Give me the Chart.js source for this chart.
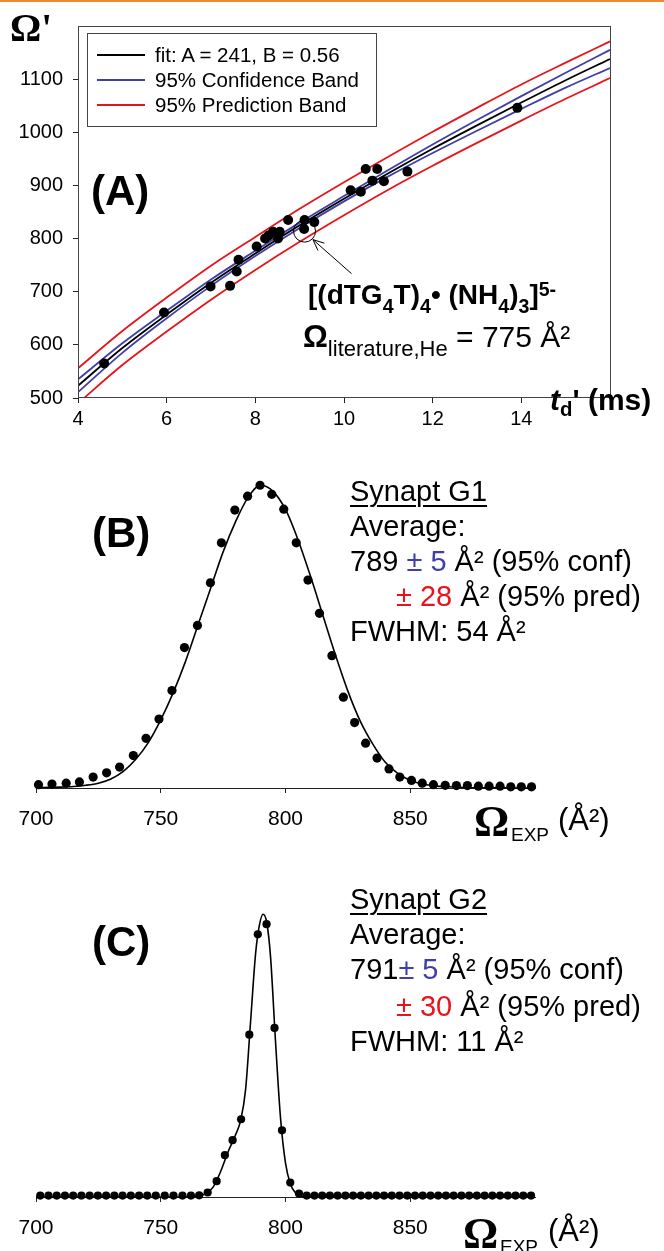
<!DOCTYPE html>
<html>
<head>
<meta charset="utf-8">
<script src="https://cdn.jsdelivr.net/npm/chart.js@4.4.1/dist/chart.umd.min.js"></script>
<style>
  html, body { margin:0; padding:0; background:#fff; }
  #wrap { position:relative; width:664px; height:1251px; overflow:hidden; background:#fff;
          font-family:"Liberation Sans", Arial, Helvetica, sans-serif; color:#000; }
  #topline { position:absolute; left:0; top:0; width:664px; height:2px; background:#EE8B2E; }
  canvas { position:absolute; left:0; }
  .t { position:absolute; white-space:nowrap; line-height:1; }
  .sb { font-size:0.7em; position:relative; top:0.42em; }
  .sp { font-size:0.7em; position:relative; top:-0.42em; }
  #legendA { position:absolute; left:87px; top:33px; width:290px; height:94px; box-sizing:border-box; border:1px solid #444; }
  .lgLine { position:absolute; height:2px; width:48px; left:9px; }
  .lgText { position:absolute; left:67px; font-size:20.5px; line-height:1; white-space:nowrap; }
</style>
</head>
<body>
<div id="wrap">
  <div id="topline"></div>
  <canvas id="chartA" width="664" height="430" style="top:0;width:664px;height:430px"></canvas>
  <canvas id="chartB" width="664" height="420" style="top:430px;width:664px;height:420px"></canvas>
  <canvas id="chartC" width="664" height="401" style="top:850px;width:664px;height:401px"></canvas>
  <div id="legendA"></div>
</div>
<script>
// ---------------- Panel A data ----------------
const tdFit      = [4, 5, 6, 7, 8, 9, 10, 11, 12, 13, 14, 15, 16];
const omegaFit   = [523, 594, 657, 717, 772, 825, 875, 923, 969, 1013, 1056, 1098, 1138];
const confUpper  = [535, 603, 664, 723, 777, 830, 880, 929, 977, 1023, 1068, 1112, 1155];
const confLower  = [511, 585, 650, 711, 767, 820, 870, 917, 961, 1003, 1044, 1084, 1121];
const predUpper  = [556, 626, 689, 749, 803, 856, 906, 954, 1001, 1046, 1090, 1131, 1171];
const predLower  = [490, 562, 625, 685, 741, 794, 844, 892, 937, 980, 1022, 1063, 1102];
const tdData     = [4.59, 5.94, 6.99, 7.43, 7.58, 7.62, 8.03, 8.22, 8.30, 8.40, 8.51, 8.55, 8.74, 9.10, 9.11, 9.33, 10.15, 10.38, 10.49, 10.64, 10.75, 10.90, 11.43, 13.91];
const omegaData  = [565, 661, 710, 711, 738, 760, 785, 800, 806, 813, 800, 813, 835, 818, 835, 831, 891, 888, 931, 909, 931, 908, 926, 1046];
const litPoint   = [9.11, 814];
const arrowFrom  = [10.17, 734];
const arrowTo    = [9.30, 798];
const xTicksA    = [4, 6, 8, 10, 12, 14];
const yTicksA    = [500, 600, 700, 800, 900, 1000, 1100];

// ---------------- Panel B data ----------------
const omegaB = [701.0, 706.4, 712.1, 717.4, 722.9, 728.3, 733.5, 739.0, 744.1, 749.3, 754.5, 759.5, 764.7, 769.9, 774.3, 779.7, 784.8, 789.8, 794.5, 799.3, 804.3, 809.0, 813.6, 818.6, 823.2, 827.7, 832.1, 836.7, 841.5, 845.8, 850.5, 854.8, 859.3, 864.0, 868.5, 872.9, 877.3, 881.6, 886.0, 890.3, 894.5, 898.6];
const intB   = [1.1, 1.3, 1.6, 2.0, 3.6, 5.0, 6.9, 10.7, 16.4, 22.8, 32.2, 46.4, 53.7, 67.8, 81.0, 91.8, 96.4, 100, 97.0, 92.1, 81.0, 68.7, 57.7, 43.7, 30.0, 21.6, 14.8, 9.9, 6.3, 3.6, 2.5, 1.6, 1.1, 0.9, 0.8, 0.8, 0.6, 0.6, 0.6, 0.4, 0.4, 0.4];
const fitBx  = [700, 705, 710, 715, 720, 725, 730, 735, 740, 745, 750, 755, 760, 765, 770, 775, 780, 785, 790, 795, 800, 805, 810, 815, 820, 825, 830, 835, 840, 845, 850, 855, 860, 865, 870, 875, 880, 885, 890, 895, 900];
const fitBy  = [0.1, 0.2, 0.3, 0.5, 0.9, 1.6, 3.0, 5.5, 9.5, 15.0, 22.5, 31.5, 42, 54, 66, 78, 88, 96, 100, 98, 92, 82, 70, 57, 44, 32, 22, 14.5, 8.5, 4.8, 2.5, 1.3, 0.7, 0.4, 0.2, 0.1, 0.1, 0.05, 0, 0, 0];

// ---------------- Panel C data ----------------
const omegaC = [701.7, 705.0, 708.3, 711.6, 714.9, 718.2, 721.5, 724.8, 728.1, 731.4, 734.7, 738.0, 741.3, 744.6, 748.0, 751.6, 755.1, 758.7, 762.1, 765.4,
                768.8, 772.4, 775.7, 778.8, 782.2, 785.5, 788.9, 792.4, 795.6, 798.6, 801.9, 805.4,
                808.5, 811.6, 814.7, 817.8, 820.9, 824.0, 827.1, 830.2, 833.3, 836.4, 839.5, 842.6, 845.7, 848.8, 851.9, 855.0, 858.1, 861.2, 864.3, 867.4, 870.5, 873.6, 876.7, 879.8, 882.9, 886.0, 889.1, 892.2, 895.3, 898.4];
const intC   = [0.5, 0.5, 0.5, 0.5, 0.5, 0.5, 0.5, 0.5, 0.5, 0.5, 0.5, 0.5, 0.5, 0.5, 0.5, 0.5, 0.5, 0.5, 0.5, 0.6,
                1.6, 5.6, 14.8, 20.1, 27.5, 57.4, 92.9, 96.5, 59.8, 23.6, 5.1, 1.2,
                0.5, 0.5, 0.5, 0.5, 0.5, 0.5, 0.5, 0.5, 0.5, 0.5, 0.5, 0.5, 0.5, 0.5, 0.5, 0.5, 0.5, 0.5, 0.5, 0.5, 0.5, 0.5, 0.5, 0.5, 0.5, 0.5, 0.5, 0.5, 0.5, 0.5];
const fitCx  = [700, 720, 740, 755, 762, 765, 768, 771, 774, 777, 780, 782, 784, 786, 788, 789.5, 791, 792.5, 794, 796, 798, 800, 802, 804, 806, 808, 820, 850, 900];
const fitCy  = [0, 0, 0, 0, 0.1, 0.3, 1.2, 3.5, 9, 16, 22, 27, 38, 62, 86, 96, 100, 97, 85, 55, 28, 12, 4.5, 1.5, 0.4, 0, 0, 0, 0];
const xTicksBC = [700, 750, 800, 850];

// ---------------- helpers ----------------
const BLUE = '#3F3FA6', RED = '#E8141B';
function xy(xs, ys) { return xs.map((x, i) => ({ x: x, y: ys[i] })); }
Chart.defaults.font.family = "'Liberation Sans', Arial, sans-serif";
Chart.defaults.color = '#000';

const framePlugin = {
  id: 'frame',
  afterDatasetsDraw(chart) {
    const a = chart.chartArea, ctx = chart.ctx;
    ctx.save();
    ctx.strokeStyle = '#444'; ctx.lineWidth = 1;
    ctx.strokeRect(Math.round(a.left) + 0.5, Math.round(a.top) + 0.5, Math.round(a.right - a.left), Math.round(a.bottom - a.top) - 1);
    ctx.restore();
  }
};
const arrowPlugin = {
  id: 'arrow',
  afterDatasetsDraw(chart) {
    const ctx = chart.ctx, sx = chart.scales.x, sy = chart.scales.y;
    const x1 = sx.getPixelForValue(arrowFrom[0]), y1 = sy.getPixelForValue(arrowFrom[1]);
    const x2 = sx.getPixelForValue(arrowTo[0]), y2 = sy.getPixelForValue(arrowTo[1]);
    const ang = Math.atan2(y2 - y1, x2 - x1), L = 12;
    ctx.save(); ctx.strokeStyle = '#000'; ctx.lineWidth = 1;
    ctx.beginPath(); ctx.moveTo(x1, y1); ctx.lineTo(x2, y2);
    [-0.42, 0.42].forEach(d => { ctx.moveTo(x2, y2); ctx.lineTo(x2 - L * Math.cos(ang + d), y2 - L * Math.sin(ang + d)); });
    ctx.stroke(); ctx.restore();
  }
};

function lineDs(label, xs, ys, color, inLegend) {
  return { label: label, inLegend: inLegend, data: xy(xs, ys), showLine: true, borderColor: color, backgroundColor: color,
           borderWidth: 1.8, pointRadius: 0, cubicInterpolationMode: 'monotone' };
}
function tickGrid(hideVal) {
  return { drawOnChartArea: false, drawTicks: true, tickLength: 5, lineWidth: 1,
           color: ctx => (ctx.tick && ctx.tick.value === hideVal) ? 'rgba(0,0,0,0)' : '#222' };
}

// ---------------- Chart A ----------------
const chartA = new Chart(document.getElementById('chartA'), {
  type: 'scatter',
  data: { datasets: [
    { label: 'data', data: xy(tdData, omegaData), backgroundColor: '#000', borderWidth: 0, pointRadius: 5, pointHoverRadius: 5 },
    { label: 'literature', data: xy([litPoint[0]], [litPoint[1]]), backgroundColor: 'rgba(0,0,0,0)', borderColor: '#000', borderWidth: 1, pointRadius: 11 },
    lineDs('fit: A = 241, B = 0.56', tdFit, omegaFit, '#000', true),
    lineDs('95% Confidence Band', tdFit, confUpper, BLUE, true),
    lineDs('95% Confidence Band (lower)', tdFit, confLower, BLUE, false),
    lineDs('95% Prediction Band', tdFit, predUpper, RED, true),
    lineDs('95% Prediction Band (lower)', tdFit, predLower, RED, false)
  ] },
  options: {
    responsive: false, animation: false, events: [],
    layout: { padding: { top: 26, right: 54, bottom: 0, left: 0 } },
    plugins: { legend: { display: false }, tooltip: { enabled: false } },
    scales: {
      x: { type: 'linear', min: 4, max: 16,
           afterBuildTicks: s => { s.ticks = xTicksA.concat([16]).map(v => ({ value: v })); },
           ticks: { color: '#000', font: { size: 20 }, padding: 4, maxRotation: 0, autoSkip: false, callback: v => v === 16 ? '' : v },
           grid: tickGrid(16), border: { display: false },
           afterFit: s => { s.height = 32; } },
      y: { type: 'linear', min: 500, max: 1200,
           afterBuildTicks: s => { s.ticks = yTicksA.concat([1200]).map(v => ({ value: v })); },
           ticks: { color: '#000', font: { size: 20 }, padding: 10, autoSkip: false, callback: v => v === 1200 ? '' : v },
           grid: tickGrid(1200), border: { display: false },
           afterFit: s => { s.width = 78; } }
    }
  },
  plugins: [framePlugin, arrowPlugin]
});

// legend A built from datasets
(function () {
  const box = document.getElementById('legendA');
  const centers = [21, 46, 71];
  chartA.data.datasets.filter(d => d.inLegend).forEach((d, i) => {
    const ln = document.createElement('div'); ln.className = 'lgLine';
    ln.style.top = (centers[i] - 1) + 'px'; ln.style.background = d.borderColor; box.appendChild(ln);
    const tx = document.createElement('div'); tx.className = 'lgText';
    tx.style.top = (centers[i] + 0.358 * 20.5 - 0.8465 * 20.5) + 'px'; tx.textContent = d.label; box.appendChild(tx);
  });
})();

// ---------------- Charts B and C ----------------
function peakChart(id, px, py, fx, fy, r, padTop, axisH) {
  return new Chart(document.getElementById(id), {
    type: 'scatter',
    data: { datasets: [
      { label: 'measured', data: xy(px, py), backgroundColor: '#000', borderWidth: 0, pointRadius: r, pointHoverRadius: r, clip: false },
      { label: 'fit', data: xy(fx, fy), showLine: true, borderColor: '#000', borderWidth: 1.6, pointRadius: 0, cubicInterpolationMode: 'monotone', clip: false }
    ] },
    options: {
      responsive: false, animation: false, events: [],
      layout: { padding: { top: padTop, right: 129, bottom: 0, left: 36 } },
      plugins: { legend: { display: false }, tooltip: { enabled: false } },
      scales: {
        x: { type: 'linear', min: 700, max: 900,
             afterBuildTicks: s => { s.ticks = xTicksBC.map(v => ({ value: v })); },
             ticks: { color: '#000', font: { size: 21 }, padding: 14, maxRotation: 0, autoSkip: false },
             grid: tickGrid(null), border: { display: true, color: '#222', width: 1 },
             afterFit: s => { s.height = axisH; } },
        y: { type: 'linear', min: 0, max: 110, display: false }
      }
    }
  });
}
peakChart('chartB', omegaB, intB, fitBx, fitBy, 4.6, 25, 62);
peakChart('chartC', omegaC, intC, fitCx, fitCy, 4.1, 36, 54);

// ---------------- Text annotations ----------------
const wrap = document.getElementById('wrap');
function addText(html, x, base, size, extra, serif) {
  const d = document.createElement('div'); d.className = 't';
  d.style.left = x + 'px'; d.style.fontSize = size + 'px';
  if (serif) d.style.fontFamily = '"Liberation Serif", "Times New Roman", serif';
  d.style.top = (base - (serif ? 0.8375 : 0.8465) * size) + 'px';
  d.innerHTML = html;
  if (extra) Object.assign(d.style, extra);
  wrap.appendChild(d); return d;
}
// Panel A
addText("Ω'", 10, 41, 39, { fontWeight: 'bold' }, true);
addText('(A)', 91, 206, 42, { fontWeight: 'bold' });
addText('[(dTG<span class="sb">4</span>T)<span class="sb">4</span>• (NH<span class="sb">4</span>)<span class="sb">3</span>]<span class="sp">5-</span>', 308, 305, 28, { fontWeight: 'bold' });
addText('<b style="font-size:31px">Ω</b><span style="font-size:22px;position:relative;top:9px">literature,He</span><span style="font-size:30px"> = 775 Å²</span>', 303, 347, 31);
addText('<i>t</i><span style="font-size:0.68em;position:relative;top:0.3em">d</span>\' (ms)', 550, 410, 30, { fontWeight: 'bold' });

// Panel B
addText('(B)', 92, 548, 42, { fontWeight: 'bold' });
addText('<span style="text-decoration:underline;text-decoration-thickness:2px;text-underline-offset:4px">Synapt G1</span>', 350, 502, 29);
addText('Average:', 350, 537, 29);
addText('789 <span style="color:' + BLUE + '">± 5</span> Å² (95% conf)', 350, 572, 29);
addText('<span style="color:' + RED + '">± 28</span> Å² (95% pred)', 396, 607, 29);
addText('FWHM: 54 Å²', 350, 642, 29);
addText('Ω', 474, 837, 44, { fontWeight: 'bold' }, true);
addText('EXP', 511, 841, 19);
addText('(Å²)', 558, 830, 31);

// Panel C
addText('(C)', 92, 957, 42, { fontWeight: 'bold' });
addText('<span style="text-decoration:underline;text-decoration-thickness:2px;text-underline-offset:4px">Synapt G2</span>', 350, 910, 29);
addText('Average:', 350, 945, 29);
addText('791<span style="color:' + BLUE + '">± 5</span> Å² (95% conf)', 350, 980, 29);
addText('<span style="color:' + RED + '">± 30</span> Å² (95% pred)', 396, 1017, 29);
addText('FWHM: 11 Å²', 350, 1052, 29);
addText('Ω', 463, 1249, 44, { fontWeight: 'bold' }, true);
addText('EXP', 500, 1253, 19);
addText('(Å²)', 548, 1241, 31);
</script>
</body>
</html>
